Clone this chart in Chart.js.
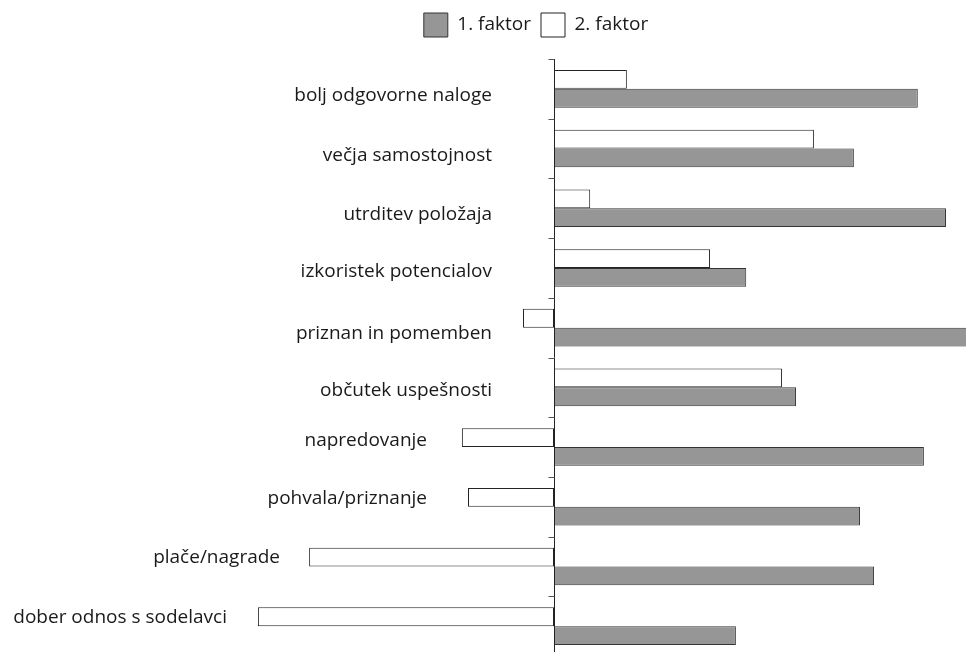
<!DOCTYPE html>
<html>
<head>
<meta charset="utf-8">
<script src="https://cdn.jsdelivr.net/npm/chart.js@4.4.1/dist/chart.umd.min.js"></script>
<style>
  html, body { margin: 0; padding: 0; background: #fff; overflow: hidden; }
  #wrap { width: 966px; height: 660px; }
</style>
</head>
<body>
<div id="wrap"><canvas id="c" width="966" height="660"></canvas></div>
<script>
// ---- data ----
const categories = [
  "bolj odgovorne naloge",
  "večja samostojnost",
  "utrditev položaja",
  "izkoristek potencialov",
  "priznan in pomemben",
  "občutek uspešnosti",
  "napredovanje",
  "pohvala/priznanje",
  "plače/nagrade",
  "dober odnos s sodelavci"
];
const factor1 = [0.774, 0.638, 0.834, 0.409, 0.900, 0.515, 0.787, 0.651, 0.681, 0.387];
const factor2 = [0.155, 0.553, 0.077, 0.332, -0.066, 0.485, -0.196, -0.183, -0.521, -0.630];
const seriesNames = ["1. faktor", "2. faktor"];

// ---- layout (label placement, px) ----
const labelRightX = [492, 492, 492, 492, 492, 492, 427, 427, 280, 227];
const labelDy     = [7, 7, 6, 4, 6, 3, -6, -8, -9, -9];

const FONT = "'Open Sans', Lato, sans-serif";
const FONT_SIZE = 19;
const PAD_LEFT = 106;

const labelPlugin = {
  id: 'catLabels',
  afterDatasetsDraw(chart) {
    const ctx = chart.ctx;
    const xs = chart.scales.x, ys = chart.scales.y;
    const area = chart.chartArea;
    const x0 = Math.round(xs.getPixelForValue(0)) + 0.5;
    ctx.save();
    ctx.strokeStyle = '#222';
    ctx.lineWidth = 1;
    ctx.beginPath();
    ctx.moveTo(x0, area.top);
    ctx.lineTo(x0, area.bottom);
    ctx.stroke();
    const n = categories.length;
    const step = (area.bottom - area.top) / n;
    ctx.strokeStyle = '#555';
    for (let i = 0; i <= n; i++) {
      const y = Math.round(area.top + i * step) + 0.5;
      ctx.beginPath();
      ctx.moveTo(x0 - 6, y);
      ctx.lineTo(x0, y);
      ctx.stroke();
    }
    ctx.fillStyle = '#1a1a1a';
    ctx.font = FONT_SIZE + "px " + FONT;
    ctx.textAlign = 'right';
    ctx.textBaseline = 'middle';
    categories.forEach((c, i) => {
      const y = ys.getPixelForValue(i) + labelDy[i];
      ctx.fillText(c, labelRightX[i], y);
    });
    ctx.restore();
  }
};

const legendMargin = {
  id: 'legendMargin',
  beforeInit(chart) {
    const fit = chart.legend.fit;
    chart.legend.fit = function () {
      fit.bind(chart.legend)();
      this.height += 12;
    };
  }
};

new Chart(document.getElementById('c'), {
  type: 'bar',
  data: {
    labels: categories,
    datasets: [
      {
        label: seriesNames[1],
        data: factor2,
        backgroundColor: '#ffffff',
        borderColor: '#222',
        borderWidth: 1,
        borderSkipped: false
      },
      {
        label: seriesNames[0],
        data: factor1,
        backgroundColor: '#969696',
        borderColor: '#333',
        borderWidth: 1,
        borderSkipped: false
      }
    ]
  },
  options: {
    indexAxis: 'y',
    responsive: false,
    animation: false,
    devicePixelRatio: 1,
    layout: { padding: { top: 3, left: PAD_LEFT, right: 0, bottom: 4 } },
    datasets: { bar: { categoryPercentage: 0.63, barPercentage: 1.0 } },
    scales: {
      x: { display: false, min: -(554 - PAD_LEFT) / 470, max: 412 / 470 },
      y: { display: false }
    },
    plugins: {
      tooltip: { enabled: false },
      legend: {
        display: true,
        position: 'top',
        reverse: true,
        labels: {
          boxWidth: 24,
          boxHeight: 24,
          padding: 10,
          color: '#1a1a1a',
          font: { family: FONT, size: FONT_SIZE }
        }
      }
    }
  },
  plugins: [legendMargin, labelPlugin]
});
</script>
</body>
</html>
